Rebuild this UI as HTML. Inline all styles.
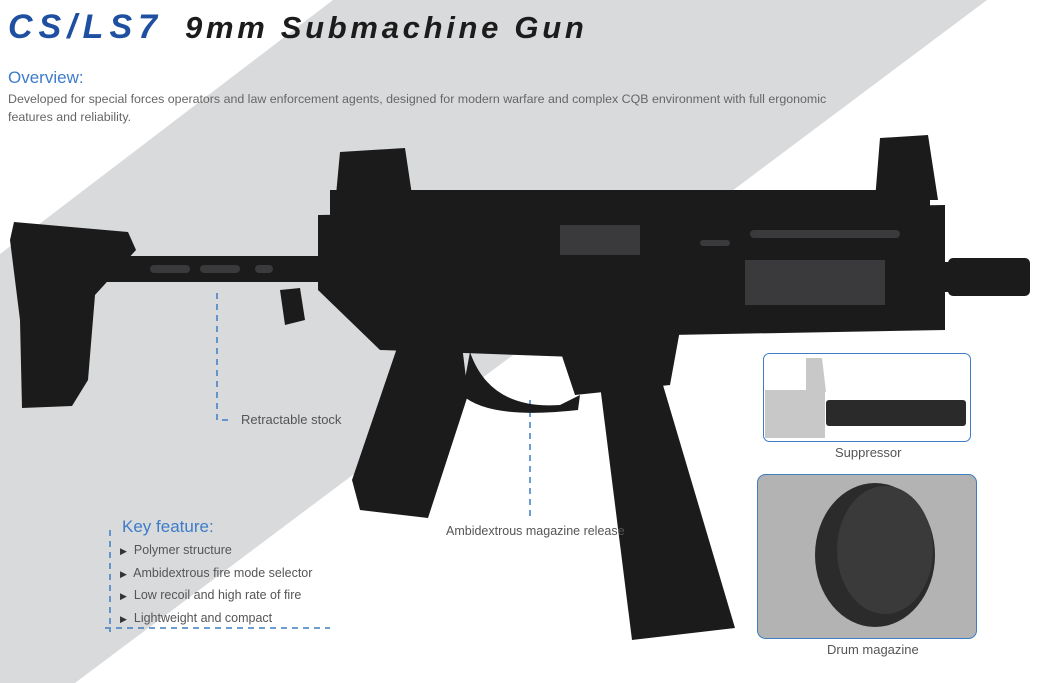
<!DOCTYPE html>
<html><head><meta charset="utf-8"><style>
body{margin:0;width:1042px;height:683px;background:#fff;position:relative;overflow:hidden;font-family:"Liberation Sans",sans-serif;}
.t{position:absolute;white-space:nowrap;}
</style></head><body>
<svg width="1042" height="683" style="position:absolute;left:0;top:0">
<polygon points="333,0 987,0 75,683 0,683 0,254" fill="#d9dadc"/>
<g fill="none" stroke="#3f7dc2" stroke-width="1.5" stroke-dasharray="6,5">
<path d="M217,293 V420 H232"/>
<path d="M530,400 V516"/>
<path d="M110,530 V632"/>
<path d="M105,628 H330"/>
</g>
<g fill="#1b1b1c">
<polygon points="14,222 128,232 136,250 95,295 88,380 72,406 22,408 20,320 10,240"/>
<rect x="80" y="256" width="250" height="26" rx="3"/>
<polygon points="280,290 300,288 305,320 285,325"/>
<polygon points="318,215 945,205 945,330 670,335 660,360 380,350 318,290"/>
<rect x="330" y="190" width="600" height="26"/>
<polygon points="340,152 405,148 412,195 336,195"/>
<polygon points="880,138 928,135 938,200 875,200"/>
<rect x="930" y="262" width="20" height="30"/>
<rect x="948" y="258" width="82" height="38" rx="5"/>
<polygon points="398,345 462,345 468,395 428,518 360,510 352,480"/>
<path d="M470,352 Q490,410 560,405 L580,395 L578,410 Q490,420 462,395 Z"/>
<polygon points="460,330 680,330 670,385 575,395 560,350 460,350"/>
<polygon points="600,385 660,375 735,628 632,640"/>
</g>
<g fill="#3a3a3c">
<rect x="150" y="265" width="40" height="8" rx="4"/>
<rect x="200" y="265" width="40" height="8" rx="4"/>
<rect x="255" y="265" width="18" height="8" rx="4"/>
<rect x="560" y="225" width="80" height="30"/>
<rect x="700" y="240" width="30" height="6" rx="3"/>
<rect x="750" y="230" width="150" height="8" rx="4"/>
<rect x="745" y="260" width="140" height="45"/>
</g>
<rect x="763.5" y="353.5" width="207" height="88" rx="6" fill="#fff" stroke="#3f7dc2"/>
<rect x="765" y="390" width="60" height="48" fill="#c8c8c8"/>
<polygon points="806,358 822,358 826,392 806,392" fill="#c8c8c8"/>
<rect x="826" y="400" width="140" height="26" rx="3" fill="#2a2a2b"/>
<rect x="757.5" y="474.5" width="219" height="164" rx="8" fill="#b3b3b3" stroke="#3f7dc2"/>
<ellipse cx="875" cy="555" rx="60" ry="72" fill="#2b2b2c"/>
<ellipse cx="885" cy="550" rx="48" ry="64" fill="#3a3a3b"/>
</svg>
<div class="t" style="left:8px;top:8px;font-size:34px;font-weight:bold;font-style:italic;color:#1f4fa0;letter-spacing:6px;">CS/LS7</div>
<div class="t" style="left:185px;top:10px;font-size:31px;font-weight:bold;font-style:italic;color:#1c1c1c;letter-spacing:3.7px;">9mm Submachine Gun</div>
<div class="t" style="left:8px;top:68px;font-size:17px;color:#3d7cc9;">Overview:</div>
<div class="t" style="left:8px;top:92px;font-size:12.4px;color:#666;">Developed for special forces operators and law enforcement agents, designed for modern warfare and complex CQB environment with full ergonomic</div>
<div class="t" style="left:8px;top:110px;font-size:12.4px;color:#666;">features and reliability.</div>
<div class="t" style="left:241px;top:412px;font-size:13px;color:#555;">Retractable stock</div>
<div class="t" style="left:446px;top:524px;font-size:12.5px;color:#555;">Ambidextrous magazine release</div>
<div class="t" style="left:835px;top:445px;font-size:13px;color:#555;">Suppressor</div>
<div class="t" style="left:827px;top:642px;font-size:13px;color:#555;">Drum magazine</div>
<div class="t" style="left:122px;top:517px;font-size:17px;color:#3d7cc9;">Key feature:</div>
<div class="t" style="left:120px;top:540px;font-size:12.5px;color:#555;line-height:21.7px;">
<div><span style="font-size:9px;color:#333;">▶</span>&nbsp; Polymer structure</div>
<div><span style="font-size:9px;color:#333;">▶</span>&nbsp; Ambidextrous fire mode selector</div>
<div><span style="font-size:9px;color:#333;">▶</span>&nbsp; Low recoil and high rate of fire</div>
<div><span style="font-size:9px;color:#333;">▶</span>&nbsp; Lightweight and compact</div>
</div>
</body></html>
